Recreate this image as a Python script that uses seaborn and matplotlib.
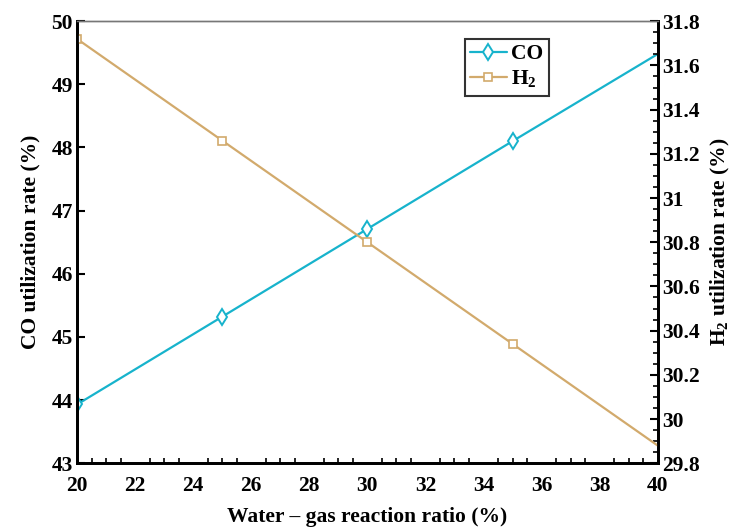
import matplotlib
matplotlib.use("Agg")
import matplotlib.pyplot as plt
import seaborn as sns
import pandas as pd
from matplotlib.ticker import MultipleLocator

ratio = [20, 25, 30, 35, 40]
co_rate = [43.93, 45.32, 46.71, 48.10, 49.48]
h2_rate = [31.72, 31.26, 30.80, 30.34, 29.88]

sns.set_theme(style="white")
plt.rcParams['font.family'] = ['Liberation Serif', 'DejaVu Serif']
plt.rcParams['font.weight'] = 'bold'
plt.rcParams['text.color'] = 'black'
plt.rcParams['axes.labelcolor'] = 'black'
plt.rcParams['xtick.color'] = 'black'
plt.rcParams['ytick.color'] = 'black'
plt.rcParams['mathtext.fontset'] = 'custom'
plt.rcParams['mathtext.rm'] = 'Liberation Serif:bold'
plt.rcParams['mathtext.bf'] = 'Liberation Serif:bold'

co_color = "#17B3CC"
h2_color = "#D2AA6C"

df = pd.DataFrame({"ratio": ratio, "CO": co_rate, "H2": h2_rate})

fig = plt.figure(figsize=(7.36, 5.30), dpi=100)
ax = fig.add_axes([0.1046, 0.126, 0.789, 0.834])
ax2 = ax.twinx()

sns.lineplot(data=df, x="ratio", y="CO", ax=ax, color=co_color, lw=1.6,
             marker="d", markersize=8, markerfacecolor="white",
             markeredgecolor=co_color, markeredgewidth=1.4,
             markevery=[0, 1, 2, 3], label="CO", legend=False)
sns.lineplot(data=df, x="ratio", y="H2", ax=ax2, color=h2_color, lw=1.6,
             marker="s", markersize=6, markerfacecolor="white",
             markeredgecolor=h2_color, markeredgewidth=1.2,
             markevery=[0, 1, 2, 3], label="H$_2$", legend=False)

ax.set_xlim(20, 40)
ax.set_ylim(43, 50)
ax2.set_ylim(29.8, 31.8)

ax.xaxis.set_major_locator(MultipleLocator(2))
ax.xaxis.set_minor_locator(MultipleLocator(0.5))
ax.yaxis.set_major_locator(MultipleLocator(1))
ax2.yaxis.set_major_locator(MultipleLocator(0.2))
ax2.yaxis.set_minor_locator(MultipleLocator(0.05))

fs = 15.5
ax.tick_params(axis="x", which="major", direction="in", length=6, width=1.5,
               labelsize=fs, pad=9, top=False)
ax.tick_params(axis="x", which="minor", direction="in", length=3.5, width=1.2, top=False, bottom=True)
ax.tick_params(axis="y", which="major", direction="in", length=6, width=1.5,
               labelsize=fs, pad=3, left=True, right=False)
ax2.tick_params(axis="y", which="major", direction="in", length=6, width=1.5,
                labelsize=fs, pad=3, right=True)
ax2.tick_params(axis="y", which="minor", direction="in", length=3.5, width=1.2, right=True)

ax2.yaxis.set_major_formatter(matplotlib.ticker.FuncFormatter(
    lambda v, p: ("%g" % round(v, 2))))

for a in (ax, ax2):
    for side in ("left", "bottom", "right"):
        a.spines[side].set_color("black")
        a.spines[side].set_linewidth(2.0)
    a.spines["top"].set_color("#777777")
    a.spines["top"].set_linewidth(1.0)

for lab in ax.get_xticklabels() + ax.get_yticklabels() + ax2.get_yticklabels():
    lab.set_fontweight("bold")

ax.set_xlabel("Water – gas reaction ratio (%)", fontsize=fs, fontweight="bold", labelpad=8)
ax.set_ylabel("CO utilization rate (%)", fontsize=fs, fontweight="bold", labelpad=8)
ax2.set_ylabel("H$_2$ utilization rate (%)", fontsize=fs, fontweight="bold", labelpad=7)

h1, l1 = ax.get_legend_handles_labels()
h2, l2 = ax2.get_legend_handles_labels()
leg = ax.legend(h1 + h2, l1 + l2, loc="upper right", bbox_to_anchor=(0.812, 0.96),
                frameon=True, fancybox=False, edgecolor="black", fontsize=fs,
                handlelength=1.7, handletextpad=0.2, borderpad=0.25, labelspacing=0.2,
                borderaxespad=0)
leg.get_frame().set_linewidth(1.5)
for t in leg.get_texts():
    t.set_fontweight("bold")

fig.savefig("out.png", dpi=100, facecolor="white")
